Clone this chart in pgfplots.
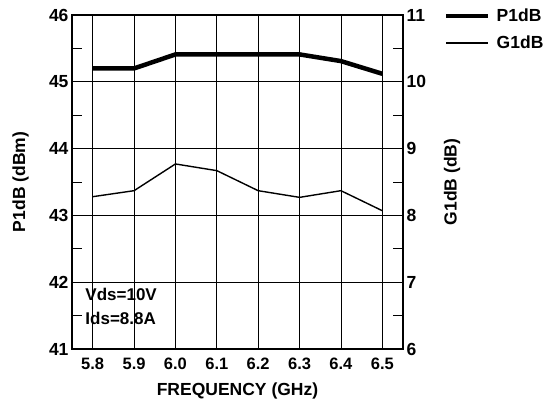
\documentclass[border=0pt]{standalone}
\usepackage{pgfplots}
\pgfplotsset{compat=1.18}
\usepackage{fontspec}
\setmainfont{Liberation Sans}
\begin{document}
\begin{tikzpicture}[font=\bfseries]
\pgfplotsset{
 common/.style={
  scale only axis, width=331bp, height=334bp,
  xmin=5.75, xmax=6.55,
  at={(0,0)}, anchor=south west,
  /pgf/number format/assume math mode=true,
  tick label style={font=\fontsize{17.5bp}{19bp}\selectfont\bfseries},
  label style={font=\fontsize{17.5bp}{19bp}\selectfont\bfseries},
  major tick length=0pt, minor tick length=10bp,
  every tick/.style={black, line width=0.8bp},
  axis line style={line width=1.2bp},
 }
}
\begin{axis}[common,
  tick align=inside,
  ymin=41, ymax=46, ytick={41,42,43,44,45,46},
  minor ytick={41.5,42.5,43.5,44.5,45.5},
  ytick pos=left, xtick pos=bottom,
  xtick={5.8,5.9,6.0,6.1,6.2,6.3,6.4,6.5},
  xticklabels={5.8,5.9,6.0,6.1,6.2,6.3,6.4,6.5},
  xticklabel style={font=\fontsize{16.5bp}{18bp}\selectfont\bfseries, yshift=-5bp},
  grid=major, major grid style={black, line width=0.7bp},
  ylabel={P1dB (dBm)}, xlabel={FREQUENCY (GHz)},
  ylabel style={at={(axis description cs:-0.155,0.5)}, anchor=center},
  xlabel style={at={(axis description cs:0.5,-0.126)}, anchor=center},
]
\addplot[black, line width=4.5bp, line join=round] coordinates {
(5.8,45.2) (5.9,45.2) (6.0,45.41) (6.1,45.41) (6.2,45.41) (6.3,45.41) (6.4,45.31) (6.5,45.12)};
\node[anchor=west, font=\fontsize{17bp}{19bp}\selectfont\bfseries] at (axis cs:5.774,41.82) {Vds=10V};
\node[anchor=west, font=\fontsize{17bp}{19bp}\selectfont\bfseries] at (axis cs:5.774,41.46) {Ids=8.8A};
\end{axis}
\begin{axis}[common,
  axis y line*=right, axis x line=none,
  tick align=inside,
  ymin=6, ymax=11, ytick={6,7,8,9,10,11},
  minor ytick={6.5,7.5,8.5,9.5,10.5},
  ylabel={G1dB (dB)},
  ylabel style={at={(axis description cs:1.148,0.5)}, anchor=center},
  legend style={at={(axis description cs:1.124,1.025)}, anchor=north west, draw=none, fill=none,
    inner sep=0pt, row sep=9bp, font=\fontsize{17.5bp}{19bp}\selectfont\bfseries},
  legend cell align=left,
  legend image code/.code={\draw[#1] (0bp,0bp) -- (42bp,0bp); \path (46bp,0bp);},
]
\addlegendimage{black, line width=4.5bp}
\addlegendentry{P1dB}
\addplot[black, line width=1.4bp] coordinates {
(5.8,8.28) (5.9,8.37) (6.0,8.77) (6.1,8.67) (6.2,8.37) (6.3,8.27) (6.4,8.37) (6.5,8.07)};
\addlegendentry{G1dB}
\end{axis}
\pgfresetboundingbox
\path[use as bounding box] (-72bp,-55bp) rectangle (475bp,349bp);
\end{tikzpicture}
\end{document}
